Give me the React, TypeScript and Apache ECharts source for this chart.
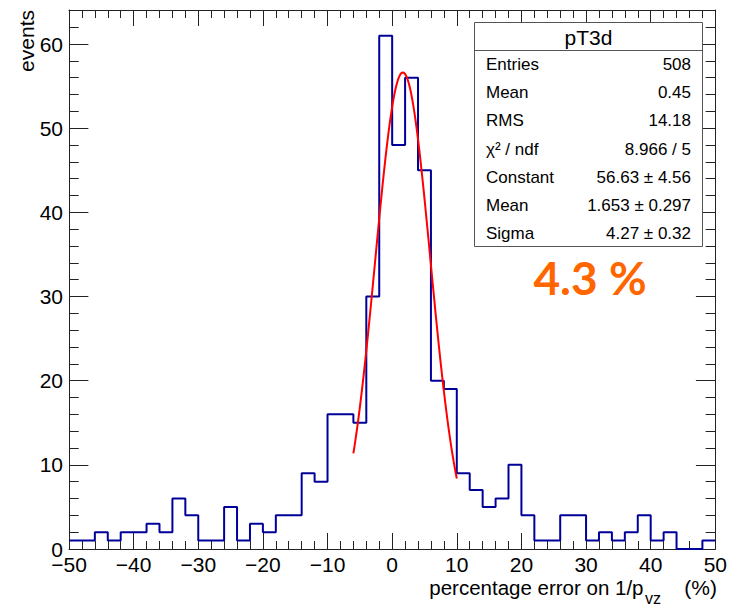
import React, { useEffect, useRef } from "react";
import * as echarts from "echarts";

// Histogram binning (2 % wide bins from -50 to 50)
const X_MIN = -50;
const X_MAX = 50;
const BIN_WIDTH = 2;
const COUNTS = [
  1, 1, 2, 1, 2, 2, 3, 2, 6, 4, 1, 1, 5, 1, 3, 2, 4,
  4, 9, 8, 16, 16, 15, 30, 61, 48, 56, 45, 20, 19, 9, 7, 5, 6, 10,
  4, 1, 1, 4, 4, 1, 2, 1, 2, 4, 1, 2, 0, 0, 1,
];
const Y_MAX = 64.05;

// Gaussian fit result
const FIT_CONSTANT = 56.63;
const FIT_MEAN = 1.653;
const FIT_SIGMA = 4.27;
const FIT_RANGE = [-6, 10];
const FIT_POINTS = 100;

// Statistics box
const STATS_TITLE = "pT3d";
const STAT_LABELS = ["Entries", "Mean", "RMS", "\u03c7\u00b2 / ndf", "Constant", "Mean", "Sigma"];
const STAT_VALUES = [
  "508",
  "0.45",
  "14.18",
  "8.966 / 5",
  `${FIT_CONSTANT.toFixed(2)} \u00b1 4.56`,
  `${FIT_MEAN.toFixed(3)} \u00b1 0.297`,
  `${FIT_SIGMA.toFixed(2)} \u00b1 0.32`,
];
const RESOLUTION_TEXT = "4.3 %";

const FONT = "'Liberation Sans', Arial, Helvetica, sans-serif";
const FRAME = "#222";

function histogramOutline(): number[][] {
  const pts: number[][] = [];
  COUNTS.forEach((c, i) => {
    const lo = X_MIN + i * BIN_WIDTH;
    pts.push([lo, c], [lo + BIN_WIDTH, c]);
  });
  return pts;
}

function fitCurve(): number[][] {
  const pts: number[][] = [];
  const [a, b] = FIT_RANGE;
  for (let i = 0; i <= FIT_POINTS; i++) {
    const x = a + ((b - a) * i) / FIT_POINTS;
    const z = (x - FIT_MEAN) / FIT_SIGMA;
    pts.push([x, FIT_CONSTANT * Math.exp(-0.5 * z * z)]);
  }
  return pts;
}

const minus = (v: number) => (v < 0 ? "\u2212" + Math.abs(v) : String(v));

function xAxisDef(position: "bottom" | "top", interval: number, tickLen: number, labels: boolean, line: boolean) {
  return {
    type: "value",
    position,
    min: X_MIN,
    max: X_MAX,
    interval,
    axisLine: { show: line, onZero: false, lineStyle: { color: FRAME, width: 1 } },
    axisTick: { show: true, inside: true, length: tickLen, lineStyle: { color: FRAME, width: 1 } },
    axisLabel: {
      show: labels,
      formatter: minus,
      fontFamily: FONT,
      fontSize: 21,
      lineHeight: 21,
      color: "#000",
      margin: 5,
    },
    splitLine: { show: false },
  };
}

function yAxisDef(position: "left" | "right", interval: number, tickLen: number, labels: boolean, line: boolean) {
  return {
    type: "value",
    position,
    min: 0,
    max: Y_MAX,
    interval,
    axisLine: { show: line, onZero: false, lineStyle: { color: FRAME, width: 1 } },
    axisTick: { show: true, inside: true, length: tickLen, lineStyle: { color: FRAME, width: 1 } },
    axisLabel: {
      show: labels,
      showMaxLabel: false,
      fontFamily: FONT,
      fontSize: 21,
      color: "#000",
      margin: 6,
    },
    splitLine: { show: false },
  };
}

function statsBox() {
  const left = 474.5;
  const top = 22.5;
  const w = 228;
  const h = 224;
  const els: any[] = [
    {
      type: "rect",
      shape: { x: left, y: top, width: w, height: h },
      style: { fill: "#fff", stroke: "#555", lineWidth: 1 },
      z: 10,
    },
    {
      type: "line",
      shape: { x1: left, y1: 50.5, x2: left + w, y2: 50.5 },
      style: { stroke: "#555", lineWidth: 1 },
      z: 11,
    },
    {
      type: "text",
      x: left + w / 2,
      y: 37,
      style: {
        text: STATS_TITLE,
        fontFamily: FONT,
        fontSize: 21,
        fill: "#000",
        align: "center",
        verticalAlign: "middle",
      },
      z: 11,
    },
  ];
  STAT_LABELS.forEach((lab, i) => {
    const y = 64.5 + i * 28.2;
    els.push({
      type: "text",
      x: 486,
      y,
      style: { text: lab, fontFamily: FONT, fontSize: 17, fill: "#000", align: "left", verticalAlign: "middle" },
      z: 11,
    });
    els.push({
      type: "text",
      x: 691,
      y,
      style: { text: STAT_VALUES[i], fontFamily: FONT, fontSize: 17, fill: "#000", align: "right", verticalAlign: "middle" },
      z: 11,
    });
  });
  return els;
}

export default function App() {
  const ref = useRef<HTMLDivElement>(null);

  useEffect(() => {
    if (!ref.current) return;
    const chart = echarts.init(ref.current, null, { renderer: "svg" });
    chart.setOption({
      animation: false,
      backgroundColor: "#fff",
      grid: { left: 69, top: 10, width: 648, height: 539, show: false },
      xAxis: [
        xAxisDef("bottom", 10, 16, true, true),
        xAxisDef("bottom", 2, 8, false, false),
        xAxisDef("top", 10, 16, false, true),
        xAxisDef("top", 2, 8, false, false),
      ],
      yAxis: [
        yAxisDef("left", 10, 19.4, true, true),
        yAxisDef("left", 2, 9.7, false, false),
        yAxisDef("right", 10, 19.4, false, true),
        yAxisDef("right", 2, 9.7, false, false),
      ],
      series: [
        {
          type: "line",
          name: "histogram",
          xAxisIndex: 0,
          yAxisIndex: 0,
          data: histogramOutline(),
          symbol: "none",
          lineStyle: { color: "#000099", width: 2 },
          z: 3,
        },
        {
          type: "line",
          name: "gaus fit",
          xAxisIndex: 0,
          yAxisIndex: 0,
          data: fitCurve(),
          symbol: "none",
          smooth: false,
          lineStyle: { color: "#ff0000", width: 2 },
          z: 4,
        },
      ],
      graphic: [
        ...statsBox(),
        {
          type: "text",
          x: 26,
          y: 10,
          rotation: Math.PI / 2,
          style: {
            text: "events",
            fontFamily: FONT,
            fontSize: 21,
            fill: "#000",
            align: "right",
            verticalAlign: "middle",
          },
        },
        {
          type: "text",
          x: 643.5,
          y: 587,
          style: {
            text: "percentage error on 1/p",
            fontFamily: FONT,
            fontSize: 20.5,
            fill: "#000",
            align: "right",
            verticalAlign: "middle",
          },
        },
        {
          type: "text",
          x: 645,
          y: 598,
          style: {
            text: "vz",
            fontFamily: FONT,
            fontSize: 16,
            fill: "#000",
            align: "left",
            verticalAlign: "middle",
          },
        },
        {
          type: "text",
          x: 717,
          y: 587,
          style: {
            text: "(%)",
            fontFamily: FONT,
            fontSize: 21,
            fill: "#000",
            align: "right",
            verticalAlign: "middle",
          },
        },
        {
          type: "text",
          x: 590,
          y: 277,
          style: {
            text: RESOLUTION_TEXT,
            fontFamily: "Lato, 'Open Sans', sans-serif",
            fontWeight: "bold",
            fontSize: 46,
            fill: "#ff6600",
            align: "center",
            verticalAlign: "middle",
          },
          z: 12,
        },
      ],
    });
    return () => chart.dispose();
  }, []);

  return (
    <div
      ref={ref}
      style={{ position: "absolute", left: 0, top: 0, width: 730, height: 607, background: "#fff" }}
    />
  );
}
